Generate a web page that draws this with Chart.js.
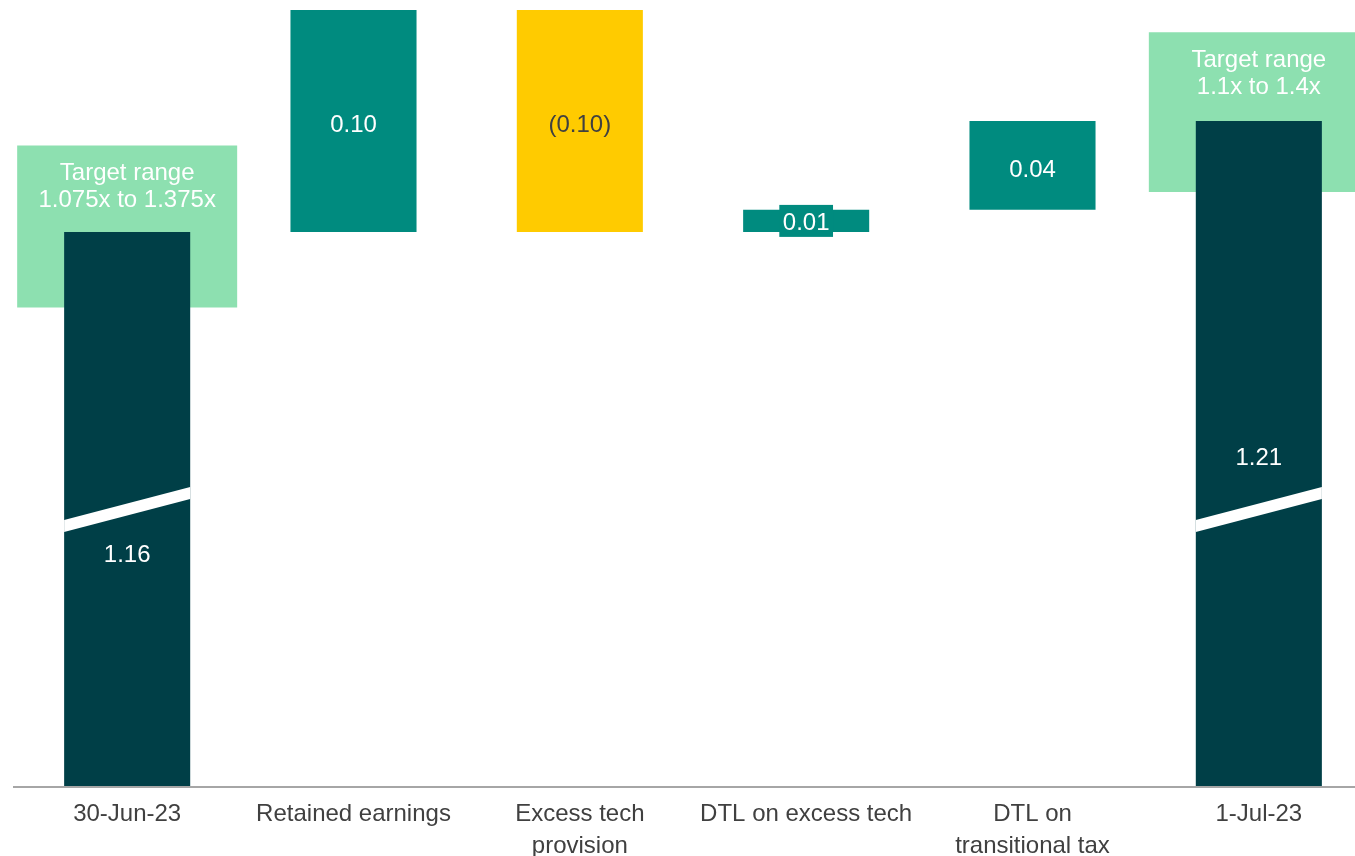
<!DOCTYPE html>
<html>
<head>
<meta charset="utf-8">
<script src="https://cdn.jsdelivr.net/npm/chart.js@4.4.0/dist/chart.umd.min.js"></script>
<style>
    html, body { margin: 0; padding: 0; background: #fff; overflow: hidden; }
    #contenedor { width: 1355px; height: 856px; overflow: hidden; }
</style>
</head>
<body>
<div id="contenedor"><canvas id="myChart" width="1372" height="856"></canvas></div>
<script>
// datos del grafico
var categorias = [['30-Jun-23'], ['Retained earnings'], ['Excess tech', 'provision'], ['DTL on excess tech'], ['DTL on', 'transitional tax'], ['1-Jul-23']];
var valorInicial = 1.16;
var movimientos = [0.10, -0.10, 0.01, 0.04];
var valorFinal = 1.21;
var etiquetas = ['1.16', '0.10', '(0.10)', '0.01', '0.04', '1.21'];
var textoRango = [['Target range', '1.075x to 1.375x'], null, null, null, null, ['Target range', '1.1x to 1.4x']];
var rangoDesde = [1.126, null, null, null, null, 1.178];
var rangoHasta = [1.199, null, null, null, null, 1.250];
var valorCorte = 1.035;
var ejeMin = 0.91;
var ejeMax = 1.26;

var OSCURO = '#003f47';
var VERDE = '#008b7f';
var AMARILLO = '#ffcb00';
var VERDE_CLARO = '#8de0b0';
var FUENTE = "Arial, 'Liberation Sans', sans-serif";

function armarBarras() {
    var barras = [valorInicial];
    var colores = [OSCURO];
    var acumulado = valorInicial;
    for (var i = 0; i < movimientos.length; i++) {
        var siguiente = Math.round((acumulado + movimientos[i]) * 1000) / 1000;
        barras.push([acumulado, siguiente]);
        colores.push(movimientos[i] < 0 ? AMARILLO : VERDE);
        acumulado = siguiente;
    }
    barras.push(valorFinal);
    colores.push(OSCURO);
    return { barras: barras, colores: colores };
}

function armarRangos() {
    var rangos = [];
    for (var i = 0; i < rangoDesde.length; i++) {
        rangos.push(rangoDesde[i] == null ? null : [rangoDesde[i], rangoHasta[i]]);
    }
    return rangos;
}

var etiquetasPlugin = {
    id: 'etiquetas',
    afterDatasetsDraw: function(chart) {
        var ctx = chart.ctx;
        var escalaY = chart.scales.y;
        var area = chart.chartArea;
        var meta = chart.getDatasetMeta(0);
        var metaRango = chart.getDatasetMeta(1);
        var pCorte = escalaY.getPixelForValue(valorCorte);

        ctx.save();
        ctx.font = '24px ' + FUENTE;
        ctx.textAlign = 'center';
        ctx.textBaseline = 'middle';

        // textos de rango objetivo
        for (var r = 0; r < metaRango.data.length; r++) {
            if (!textoRango[r]) continue;
            var caja = metaRango.data[r];
            ctx.fillStyle = '#ffffff';
            ctx.fillText(textoRango[r][0], caja.x, caja.y + 28);
            ctx.fillText(textoRango[r][1], caja.x, caja.y + 55);
        }

        for (var i = 0; i < meta.data.length; i++) {
            var barra = meta.data[i];
            var izq = barra.x - barra.width / 2;
            var der = barra.x + barra.width / 2;
            var abajo = Math.min(barra.base, area.bottom);
            var medio = (barra.y + abajo) / 2;

            // corte del eje
            if (abajo > pCorte + 20 && barra.y < pCorte - 20) {
                var inclinacion = barra.width * 0.131;
                ctx.fillStyle = '#ffffff';
                ctx.beginPath();
                ctx.moveTo(izq, pCorte + inclinacion - 6);
                ctx.lineTo(der, pCorte - inclinacion - 6);
                ctx.lineTo(der, pCorte - inclinacion + 6);
                ctx.lineTo(izq, pCorte + inclinacion + 6);
                ctx.closePath();
                ctx.fill();
                if (Math.abs(medio - pCorte) < 30) {
                    medio = pCorte + 41;
                }
            }

            var alto = Math.abs(abajo - barra.y);
            if (alto < 30) {
                var ancho = ctx.measureText(etiquetas[i]).width + 7;
                ctx.fillStyle = VERDE;
                ctx.fillRect(barra.x - ancho / 2, medio - 16, ancho, 32);
            }
            ctx.fillStyle = movimientos[i - 1] < 0 ? '#404040' : '#ffffff';
            ctx.fillText(etiquetas[i], barra.x, medio + (alto < 30 ? 2.5 : 4.5));
        }
        ctx.restore();
    }
};

function dibujar() {
    var armado = armarBarras();
    const ctx = document.getElementById('myChart');

    new Chart(ctx, {
        type: 'bar',
        data: {
            labels: categorias,
            datasets: [{
                label: 'Ratio',
                data: armado.barras,
                backgroundColor: armado.colores,
                barPercentage: 0.557,
                categoryPercentage: 1,
                grouped: false,
                order: 1
            }, {
                label: 'Target range',
                data: armarRangos(),
                backgroundColor: VERDE_CLARO,
                barPercentage: 0.972,
                categoryPercentage: 1,
                grouped: false,
                order: 2
            }]
        },
        options: {
            responsive: false,
            animation: false,
            layout: {
                padding: { top: 10, left: 14, right: 0, bottom: 0 }
            },
            plugins: {
                legend: { display: false },
                tooltip: { enabled: false }
            },
            scales: {
                x: {
                    grid: { display: false },
                    border: { display: true, color: '#a6a6a6', width: 2, z: 1 },
                    ticks: {
                        color: '#404040',
                        font: { family: FUENTE, size: 24, lineHeight: 1.333 },
                        padding: 3,
                        maxRotation: 0,
                        autoSkip: false
                    },
                    afterFit: function(escala) {
                        escala.height = 69;
                    }
                },
                y: {
                    display: false,
                    min: ejeMin,
                    max: ejeMax
                }
            }
        },
        plugins: [etiquetasPlugin]
    });
}

dibujar();
</script>
</body>
</html>
